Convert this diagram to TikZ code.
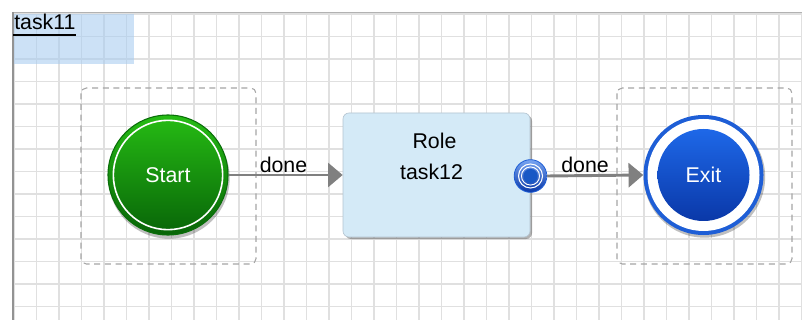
\documentclass[tikz,border=0pt]{standalone}
\usepackage{fontspec}
\setmainfont{Liberation Sans}
\usetikzlibrary{arrows.meta}
\definecolor{gridc}{RGB}{224,224,224}
\definecolor{hilite}{RGB}{170,205,240}
\definecolor{gtop}{RGB}{38,188,20}
\definecolor{gbot}{RGB}{8,100,8}
\definecolor{gedge}{RGB}{10,110,10}
\definecolor{bring}{RGB}{30,94,214}
\definecolor{btop}{RGB}{30,104,232}
\definecolor{bbot}{RGB}{10,56,168}
\definecolor{rolefill}{RGB}{212,234,247}
\definecolor{roleedge}{RGB}{180,196,208}
\definecolor{flowc}{RGB}{128,128,128}
\definecolor{dashc}{RGB}{165,165,165}
\begin{document}
\begin{tikzpicture}[x=0.75pt,y=-0.75pt,
  gridline/.style={draw=gridc,line width=1.1pt},
  lbl/.style={font=\fontsize{16}{19}\selectfont,inner sep=0pt},
  flow/.style={draw=flowc,line width=2.2pt,-{Triangle[length=11pt,width=18pt]}},
  group/.style={draw=dashc,line width=0.8pt,dash pattern=on 4.5pt off 3.5pt,rounded corners=4pt},
  bigcirc/.style={circle,minimum size=90pt,inner sep=0pt}]
\useasboundingbox (0,0) rectangle (802,320);
\fill[white] (0,0) rectangle (802,320);
% grid
\foreach \i in {0,...,35} {\draw[gridline] ({14+22.5*\i},14) -- ({14+22.5*\i},320);}
\foreach \j in {0,...,13} {\draw[gridline] (14,{14+22.5*\j}) -- (802,{14+22.5*\j});}
% borders
\draw[draw=gray!60,line width=1.1pt] (12,12.5) -- (802,12.5);
\draw[draw=gray!85,line width=1.5pt] (13,12) -- (13,320);
% highlight
\fill[hilite,opacity=0.6] (14,14) rectangle (134,64);
\node[lbl,anchor=base west] (t11) at (14,30) {task11};
\draw[black,line width=0.8pt] (13,35) -- (t11.base east |- 0,35);
% groups
\draw[group] (81,88) rectangle (256,264);
\draw[group] (617,88) rectangle (792,264);
% start
\fill[black,opacity=0.25] (169,178) circle (45.5pt);
\node[bigcirc,top color=gtop,bottom color=gbot,draw=gedge,line width=0.8pt] (start) at (168,175) {};
\draw[white,line width=1.2pt] (start.center) circle (41pt);
\node[lbl,text=white] (starttxt) at (start.center) {Start};
% exit
\fill[black,opacity=0.25] (704.5,177) circle (45.5pt);
\node[bigcirc,fill=bring] (exit) at (703.5,175) {};
\fill[white] (exit.center) circle (42pt);
\shade[top color=btop,bottom color=bbot] (exit.center) circle (34.5pt);
\node[lbl,text=white] (exittxt) at (exit.center) {Exit};
% role
\fill[black,opacity=0.3,rounded corners=4.5pt] (345,115) rectangle (532,239);
\node[draw=roleedge,fill=rolefill,line width=0.5pt,rounded corners=4.5pt,minimum width=140.25pt,minimum height=93pt,inner sep=0pt] (role) at (436.5,175) {};
\node[lbl,anchor=base] (roletxt) at (434.5,149) {Role};
\node[lbl,anchor=base] (tasktxt) at (431.5,180) {task12};
% port
\node[circle,minimum size=24.5pt,inner sep=0pt,top color=btop!60!white,bottom color=bbot,draw=bring,line width=0.6pt] (port) at (530.5,176) {};
\draw[white,line width=0.8pt] (port.center) circle (9pt);
\draw[white,line width=0.7pt] (port.center) circle (6.8pt);
\fill[btop!85!black] (port.center) circle (5.3pt);
% flows
\draw[flow] (start.east) -- (role.west);
\draw[flow] (port.east) -- (exit.west);
\node[lbl,anchor=base] (done1) at (283.5,173) {done};
\node[lbl,anchor=base] (done2) at (585,173) {done};
\end{tikzpicture}
\end{document}
